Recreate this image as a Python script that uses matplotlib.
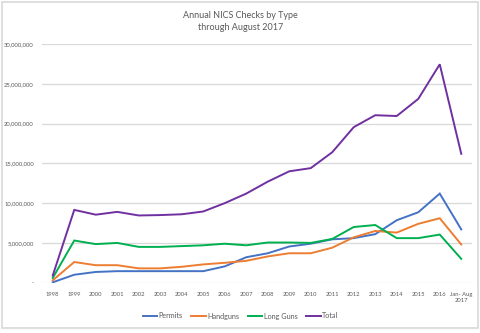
import matplotlib
matplotlib.use("Agg")
import matplotlib.pyplot as plt
from matplotlib.patches import Rectangle
from matplotlib.ticker import FuncFormatter

plt.rcParams['font.family'] = ['Lato', 'DejaVu Sans']

years = ["1998", "1999", "2000", "2001", "2002", "2003", "2004", "2005", "2006",
         "2007", "2008", "2009", "2010", "2011", "2012", "2013", "2014", "2015",
         "2016", "Jan- Aug\n2017"]

permits = [0.05, 1.0, 1.35, 1.45, 1.45, 1.45, 1.45, 1.45, 2.05, 3.2, 3.7, 4.55,
           4.9, 5.45, 5.6, 6.1, 7.85, 8.85, 11.2, 6.7]
handguns = [0.3, 2.6, 2.2, 2.2, 1.8, 1.8, 2.0, 2.3, 2.5, 2.75, 3.3, 3.7,
            3.7, 4.4, 5.7, 6.5, 6.3, 7.4, 8.1, 4.8]
long_guns = [0.6, 5.3, 4.85, 5.0, 4.5, 4.5, 4.6, 4.7, 4.9, 4.7, 5.05, 5.05,
             5.0, 5.5, 7.0, 7.25, 5.6, 5.6, 6.05, 3.0]
total = [0.9, 9.15, 8.55, 8.9, 8.45, 8.5, 8.6, 8.95, 10.0, 11.2, 12.7, 14.0,
         14.4, 16.4, 19.55, 21.05, 20.95, 23.1, 27.45, 16.2]

series = [("Permits", permits, "#4472C4"),
          ("Handguns", handguns, "#ED7D31"),
          ("Long Guns", long_guns, "#00B050"),
          ("Total", total, "#7030A0")]

fig = plt.figure(figsize=(4.81, 3.33), dpi=100)
fig.patch.set_facecolor("white")
fig.add_artist(Rectangle((2 / 481, 5 / 333), 476 / 481, 326 / 333,
                         transform=fig.transFigure, fill=False,
                         edgecolor="#D9D9D9", linewidth=1.2))

ax = fig.add_axes([42 / 481, 50.3 / 333, 430 / 481, 238.7 / 333])
x = list(range(len(years)))
for name, vals, color in series:
    ax.plot(x, [v * 1e6 for v in vals], color=color, linewidth=1.4,
            label=name, solid_joinstyle="miter")

ax.set_xlim(-0.5, len(years) - 0.5)
ax.set_ylim(0, 30e6)
ax.set_yticks([i * 5e6 for i in range(7)])
ax.yaxis.set_major_formatter(FuncFormatter(
    lambda v, p: "-" if v == 0 else f"{int(v):,}"))
ax.set_xticks(x)
ax.set_xticklabels(years)
ax.grid(axis="y", color="#D9D9D9", linewidth=0.9)
ax.set_axisbelow(True)
for s in ax.spines.values():
    s.set_visible(False)
ax.tick_params(axis="both", length=0, labelsize=4.2, colors="#595959")
ax.tick_params(axis="x", pad=6.5)
ax.tick_params(axis="y", pad=5.8)

fig.text(0.5, 1 - 15 / 333, "Annual NICS Checks by Type", ha="center",
         va="center", fontsize=6.5, color="#595959")
fig.text(0.5, 1 - 27 / 333, "through August 2017", ha="center",
         va="center", fontsize=6.5, color="#595959")

fig.legend(loc="center", bbox_to_anchor=(0.5, 1 - 316 / 333), ncol=4,
           frameon=False, fontsize=5.2, labelcolor="#595959",
           handlelength=2.0, handletextpad=0.2, columnspacing=1.2)

fig.savefig("out.png", dpi=100, facecolor="white")
